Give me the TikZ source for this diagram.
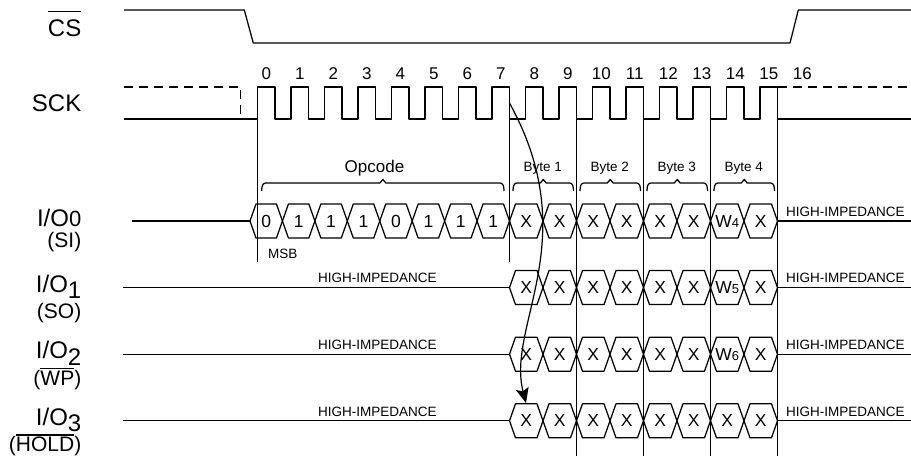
\documentclass[tikz,border=0pt]{standalone}
\usepackage{fontspec}
\setmainfont{Liberation Sans}
\usetikzlibrary{arrows.meta}
\newsavebox\ovlbox
\newcommand\myovl[3]{\sbox\ovlbox{#3}\rlap{\rule[\dimexpr\fontcharht\font`H+#1\relax]{\wd\ovlbox}{#2}}\usebox\ovlbox}
\newcommand\hexcell[5]{%
  \draw[sig] (#2,#4) -- ({#2+6},{#4-17}) -- ({#3-6},{#4-17}) -- (#3,#4) -- ({#3-6},{#4+17}) -- ({#2+6},{#4+17}) -- cycle;
  \node[bitlbl] (#1) at ({(#2+#3)/2},#4) {#5};}
\newcommand\mybrace[2]{%
  \draw[sig] (#1,191) .. controls (#1,186) and ({#1+1},183) .. ({#1+4},183) -- ({(#1+#2)/2-3},183) -- ({(#1+#2)/2},179.5) -- ({(#1+#2)/2+3},183) -- ({#2-4},183) .. controls ({#2-1},183) and (#2,186) .. (#2,191);}
\tikzset{
  sig/.style={line width=1.25pt, line join=round},
  dsig/.style={sig, dash pattern=on 9pt off 6pt},
  biglbl/.style={font=\fontsize{24}{28}\selectfont, anchor=base east, inner sep=0pt},
  sublbl/.style={font=\fontsize{21}{25}\selectfont, anchor=base east, inner sep=0pt},
  numlbl/.style={font=\fontsize{17}{20}\selectfont, anchor=base, inner sep=0pt},
  bitlbl/.style={font=\fontsize{17.5}{20}\selectfont, inner sep=0pt},
  smalllbl/.style={font=\fontsize{13.5}{16}\selectfont, inner sep=0pt},
  arr/.style={line width=1.2pt, -{Stealth[length=15pt,width=13pt,inset=3pt]}},
}
\begin{document}
\begin{tikzpicture}[x=1pt,y=-1pt]
\useasboundingbox (0,0) rectangle (911,459);
\fill[white] (0,0) rectangle (911,459);
% labels
\node[biglbl] (lcs) at (81.5,36.7) {\myovl{8pt}{1.2pt}{CS}};
\node[biglbl] (lsck) at (81.5,111.7) {SCK};
\node[biglbl] (lio0) at (81.5,226) {I/O{\fontsize{22}{24}\selectfont 0}};
\node[sublbl] (lsi) at (81.5,247.3) {(SI)};
\node[biglbl] (lio1) at (81.5,292) {I/O\raisebox{-6.5pt}{1}};
\node[sublbl] (lso) at (81.5,318.5) {(SO)};
\node[biglbl] (lio2) at (81.5,358.5) {I/O\raisebox{-6.5pt}{2}};
\node[sublbl] (lwp) at (81.5,385) {(\myovl{1.5pt}{1.2pt}{WP})};
\node[biglbl] (lio3) at (81.5,425) {I/O\raisebox{-6.5pt}{3}};
\node[sublbl] (lhold) at (81.5,451.5) {(\myovl{1.5pt}{1.2pt}{HOLD})};
% CS
\draw[sig] (124,10) -- (244.3,10) -- (253.3,43) -- (790,43) -- (798.3,10) -- (911,10);
% SCK
\draw[sig] (124,119) -- (257.5,119)
  \foreach \k in {0,...,14} { -- ({257.5+33.5*\k},87) -- ({275+33.5*\k},87) -- ({275+33.5*\k},119) -- ({291+33.5*\k},119) }
  -- (760,87) -- (777.5,87) -- (777.5,119) -- (911,119);
\draw[dsig] (124,87) -- (240.7,87) -- (240.7,119);
\draw[dsig] (777.5,87) -- (911,87);
% clock numbers
\foreach \k in {0,...,16} \node[numlbl] (n\k) at ({266.25+33.5*\k},79) {\k};
% vertical markers
\draw[sig] (257.5,87) -- (257.5,262);
\draw[sig] (509.5,87) -- (509.5,262);
\foreach \xx in {576.5,643.5,710.5,777.5} \draw[sig] (\xx,87) -- (\xx,456);
% braces and labels
\mybrace{261.7}{504}
\node[font=\fontsize{17}{20}\selectfont, anchor=base, inner sep=0pt] (opc) at (374.5,172) {Opcode};
\foreach \j in {1,...,4} {
  \pgfmathsetmacro\ba{513+67*(\j-1)}
  \pgfmathsetmacro\bb{573.5+67*(\j-1)}
  \mybrace{\ba}{\bb}
  \node[smalllbl, anchor=base] (b\j) at ({542.75+67*(\j-1)},171.7) {Byte \j};
}
\node[smalllbl, anchor=base west] (msb) at (268,258.3) {MSB};
% row lines
\draw[sig] (132,221) -- (250,221);
\foreach \yy in {287.6,354.2,420.8} \draw[sig] (123,\yy) -- (509.5,\yy);
\foreach \yy in {221,287.6,354.2,420.8} \draw[sig] (777.5,\yy) -- (911,\yy);
% opcode cells
\foreach \t [count=\i from 0] in {0,1,1,1,0,1,1,1} {
  \pgfmathsetmacro\ha{250+32.4375*\i}
  \pgfmathsetmacro\hb{250+32.4375*(\i+1)}
  \hexcell{op\i}{\ha}{\hb}{221}{\t}
}
% data cells
\foreach \row/\yy/\wn in {0/221/4,1/287.6/5,2/354.2/6} {
  \foreach \j in {0,...,7} {
    \pgfmathsetmacro\ha{509.5+33.5*\j}
    \pgfmathsetmacro\hb{509.5+33.5*(\j+1)}
    \ifnum\j=6 \def\lab{W{\fontsize{13}{15}\selectfont\wn}}\else\def\lab{X}\fi
    \hexcell{d\row-\j}{\ha}{\hb}{\yy}{\lab}
  }
}
\foreach \j in {0,...,7} {
  \pgfmathsetmacro\ha{509.5+33.5*\j}
  \pgfmathsetmacro\hb{509.5+33.5*(\j+1)}
  \hexcell{d3-\j}{\ha}{\hb}{420.8}{X}
}
% high impedance labels
\foreach \yy [count=\i] in {221,287.6,354.2,420.8} \node[smalllbl, anchor=base west] (hr\i) at (786,{\yy-4.7}) {HIGH-IMPEDANCE};
\foreach \yy [count=\i] in {287.6,354.2,420.8} \node[smalllbl, anchor=base west] (hl\i) at (318,{\yy-4.7}) {HIGH-IMPEDANCE};
% arrow
\coordinate (as) at (509.5,103);
\coordinate (ae) at (526,403);
\draw[arr] (as) .. controls (585,240) and (506,325) .. (ae);
\end{tikzpicture}
\end{document}
